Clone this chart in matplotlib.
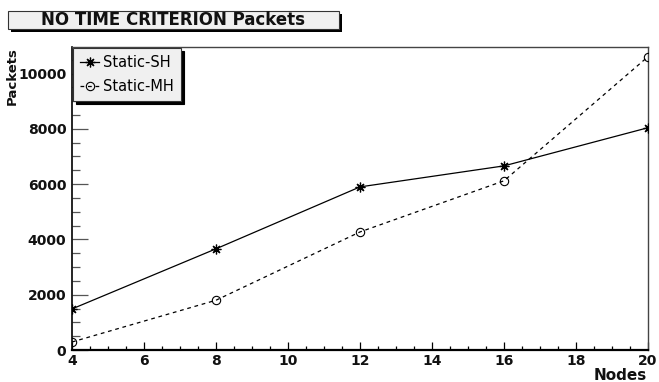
import matplotlib
matplotlib.use('Agg')
import matplotlib.pyplot as plt
from matplotlib.patches import Rectangle
from matplotlib.ticker import MultipleLocator

plt.rcParams['font.family'] = ['DejaVu Sans']

# data
nodes = [4, 8, 12, 16, 20]
static_sh = [1485, 3660, 5900, 6660, 8040]
static_mh = [290, 1800, 4270, 6120, 10610]

W, H = 659, 382
fig = plt.figure(figsize=(W / 100, H / 100), dpi=100)
fig.patch.set_facecolor('white')


def fx(x):
    return x / W


def fy(y):
    return 1 - y / H


# title box with shadow (ROOT style)
fig.patches.append(Rectangle((fx(11), fy(32)), fx(331), 18 / H, transform=fig.transFigure,
                             facecolor='black', edgecolor='none', zorder=1))
fig.patches.append(Rectangle((fx(8), fy(29)), fx(331), 18 / H, transform=fig.transFigure,
                             facecolor='#f0f0f0', edgecolor='#333333', linewidth=0.8, zorder=2))
fig.text(fx(173), fy(20), 'NO TIME CRITERION Packets', ha='center', va='center',
         fontsize=12, fontweight='bold', color='#111111', zorder=3)

ax = fig.add_axes([fx(72), fy(350), fx(648 - 72), (350 - 47) / H])
ax.plot(nodes, static_sh, color='black', lw=0.9, marker=(8, 2, 0), markersize=7,
        markeredgewidth=0.9, label='Static-SH', zorder=3)
ax.plot(nodes, static_mh, color='black', lw=0.9, ls=(0, (3, 3)), marker='o', markersize=6,
        markerfacecolor='none', markeredgewidth=0.8, label='Static-MH', zorder=3)

ax.set_xlim(4, 20)
ax.set_ylim(0, 10960)
ax.xaxis.set_major_locator(MultipleLocator(2))
ax.xaxis.set_minor_locator(MultipleLocator(0.5))
ax.yaxis.set_major_locator(MultipleLocator(2000))
ax.yaxis.set_minor_locator(MultipleLocator(500))
ax.tick_params(axis='x', which='major', direction='in', length=5.8, width=0.9, pad=3,
               labelsize=10, top=False)
ax.tick_params(axis='x', which='minor', direction='in', length=2.9, width=0.9, top=False)
ax.tick_params(axis='y', which='major', direction='in', length=11.5, width=0.9, pad=4,
               labelsize=10, right=False, color='#555555')
ax.tick_params(axis='y', which='minor', direction='in', length=5.8, width=0.9,
               right=False, color='#555555')
for lab in ax.get_xticklabels() + ax.get_yticklabels():
    lab.set_fontweight('bold')
    lab.set_color('#111111')

ax.spines['bottom'].set_linewidth(1.6)
ax.spines['left'].set_linewidth(1.2)
for s in ['top', 'right']:
    ax.spines[s].set_linewidth(1.0)
    ax.spines[s].set_color('#444444')

fig.text(fx(12), fy(47), 'Packets', rotation=90, ha='center', va='top',
         fontsize=9.5, fontweight='bold', color='#111111')
fig.text(fx(647), fy(375), 'Nodes', ha='right', va='center',
         fontsize=11, fontweight='bold', color='#111111')

leg = ax.legend(loc='upper left', bbox_to_anchor=(0.0, 1.0), borderaxespad=0.05,
                fontsize=10.5, handlelength=1.3, handletextpad=0.3, borderpad=0.5,
                labelspacing=0.6, fancybox=False, framealpha=1,
                shadow={'facecolor': 'black', 'edgecolor': 'black', 'alpha': 1})
leg.get_frame().set_facecolor('#f0f0f0')
leg.get_frame().set_edgecolor('#333333')
leg.get_frame().set_linewidth(0.8)

fig.savefig('out.png', dpi=100)
